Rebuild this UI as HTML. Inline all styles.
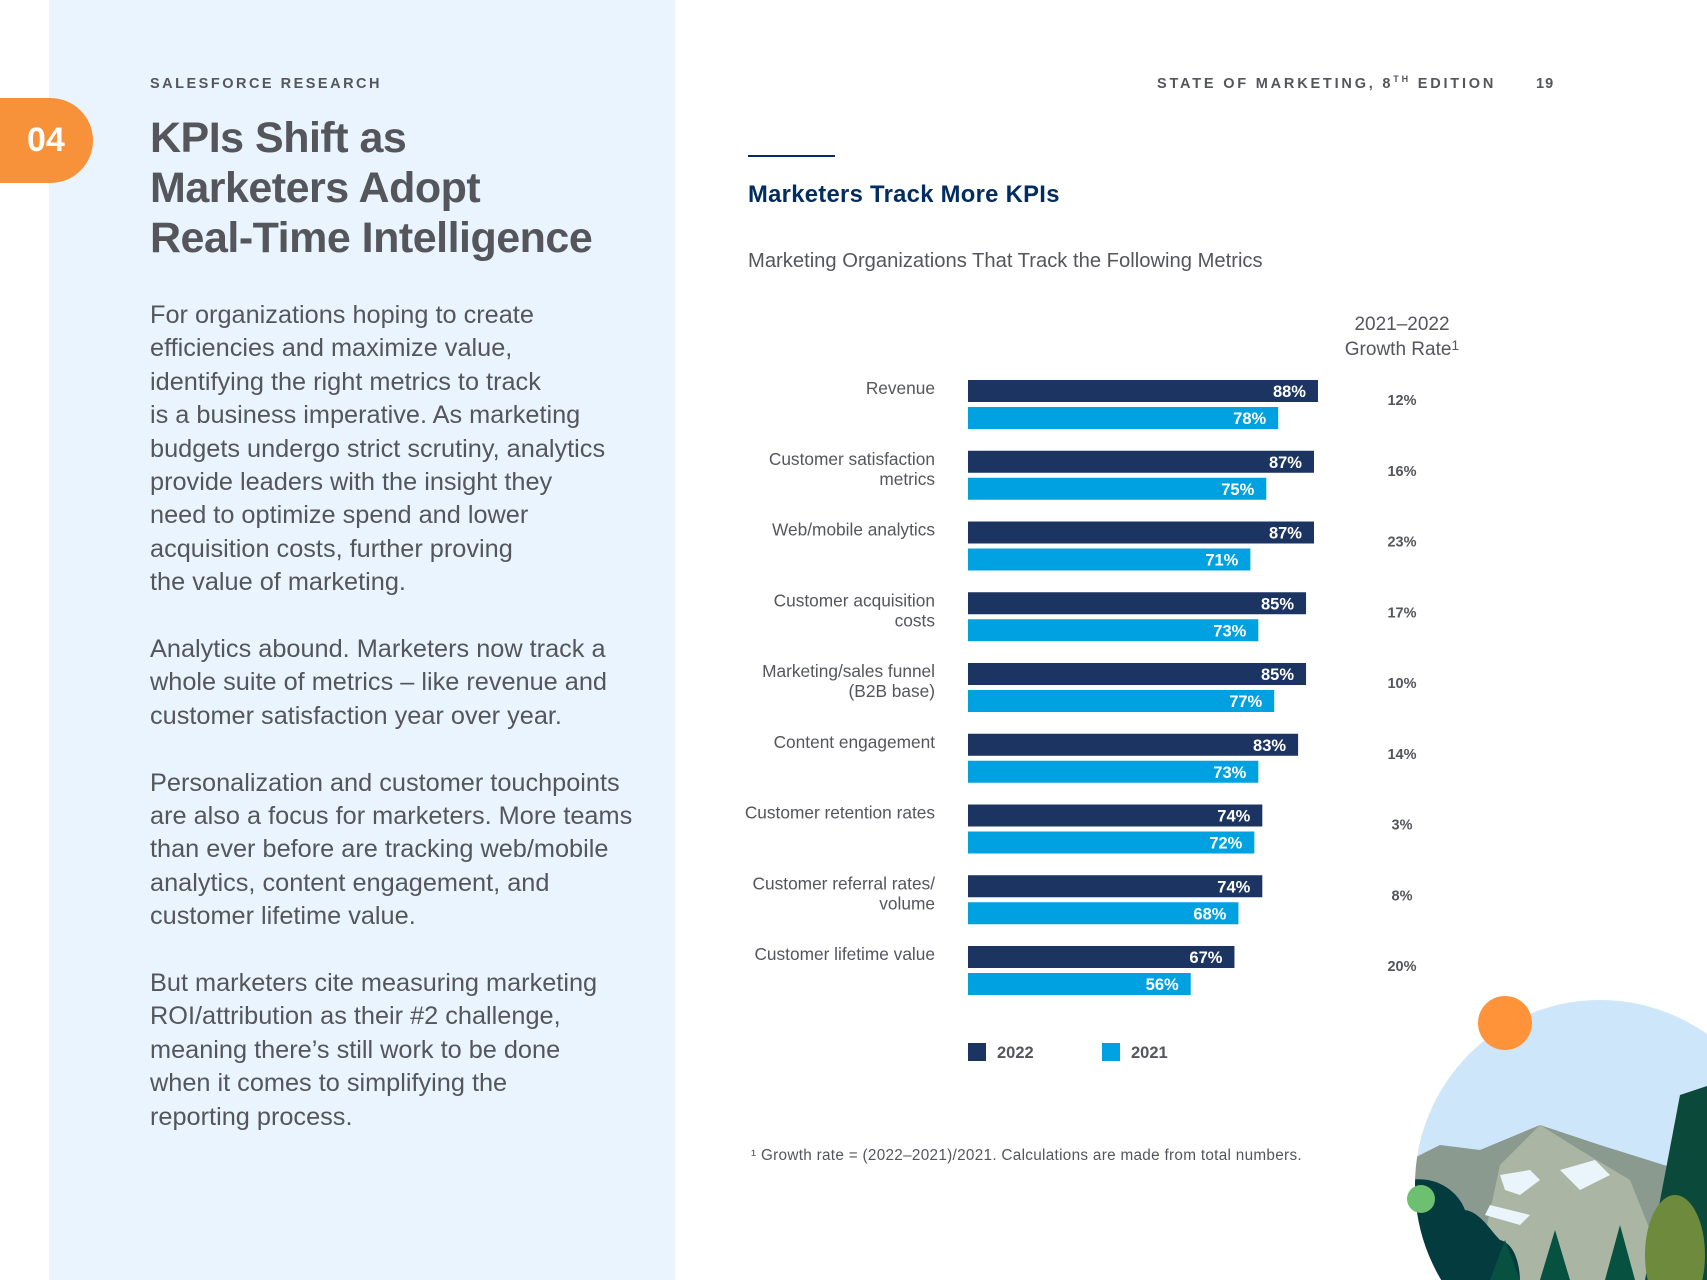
<!DOCTYPE html>
<html><head><meta charset="utf-8">
<style>
html,body{margin:0;padding:0;width:1707px;height:1280px;overflow:hidden;}
body{position:relative;background:#fff;font-family:"Liberation Sans",sans-serif;color:#54565b;}
svg{display:block;}
.abs{position:absolute;}
#panel{left:49px;top:0;width:626px;height:1280px;background:#e9f4fe;}
#tab{left:0;top:98px;width:93px;height:85px;background:#f7923a;border-radius:0 43px 43px 0;color:#fff;font-size:34px;font-weight:bold;line-height:85px;text-indent:27px;}
.kicker{font-size:14.5px;letter-spacing:2.5px;font-weight:bold;color:#54565b;}
#title{left:150px;top:113px;font-size:43px;line-height:50px;font-weight:bold;color:#54565b;letter-spacing:-0.5px;}
#body{left:150px;top:299px;font-size:25.3px;line-height:33.4px;color:#54565b;width:520px;white-space:nowrap;}
#body p{margin:0 0 33.4px 0;}
#rule{left:748px;top:155px;width:87px;height:2px;background:#032d60;}
#ctitle{left:748px;top:181px;font-size:23.8px;font-weight:bold;color:#032d60;letter-spacing:0.3px;}
#csub{left:748px;top:250px;font-size:20.2px;color:#54565b;}
#foot{left:751px;top:1147px;font-size:15.3px;letter-spacing:0.3px;color:#54565b;}
</style></head><body>
<div id="panel" class="abs"></div>
<div id="tab" class="abs">04</div>
<div class="abs kicker" style="left:150px;top:76px;">SALESFORCE RESEARCH</div>
<div class="abs kicker" style="left:1157px;top:76px;letter-spacing:2.8px;">STATE OF MARKETING, 8<sup style="font-size:9px;line-height:0;">TH</sup> EDITION</div>
<div class="abs kicker" style="left:1536px;top:76px;letter-spacing:1px;">19</div>
<div id="title" class="abs">KPIs Shift as<br>Marketers Adopt<br>Real-Time Intelligence</div>
<div id="body" class="abs">
<p>For organizations hoping to create<br>efficiencies and maximize value,<br>identifying the right metrics to track<br>is a business imperative. As marketing<br>budgets undergo strict scrutiny, analytics<br>provide leaders with the insight they<br>need to optimize spend and lower<br>acquisition costs, further proving<br>the value of marketing.</p>
<p>Analytics abound. Marketers now track a<br>whole suite of metrics – like revenue and<br>customer satisfaction year over year.</p>
<p>Personalization and customer touchpoints<br>are also a focus for marketers. More teams<br>than ever before are tracking web/mobile<br>analytics, content engagement, and<br>customer lifetime value.</p>
<p style="margin:0">But marketers cite measuring marketing<br>ROI/attribution as their #2 challenge,<br>meaning there’s still work to be done<br>when it comes to simplifying the<br>reporting process.</p>
</div>
<div id="rule" class="abs"></div>
<div id="ctitle" class="abs">Marketers Track More KPIs</div>
<div id="csub" class="abs">Marketing Organizations That Track the Following Metrics</div>
<div id="foot" class="abs">¹ Growth rate = (2022–2021)/2021. Calculations are made from total numbers.</div>

<svg id="chart" class="abs" style="left:0;top:0;" width="1707" height="1280">
<text x="1402" y="330" text-anchor="middle" font-size="19" fill="#54565b">2021–2022</text>
<text x="1402" y="355" text-anchor="middle" font-size="19" fill="#54565b">Growth Rate<tspan font-size="14" dy="-5">1</tspan></text>
<g id="bars"></g>
</svg>

<svg class="abs" style="left:1380px;top:980px;" width="327" height="300">
<defs><clipPath id="cc"><circle cx="220" cy="205" r="185"/></clipPath></defs>
<g clip-path="url(#cc)">
<rect x="0" y="0" width="400" height="400" fill="#cde6fa"/>
<polygon points="30,180 60,165 100,170 160,145 220,165 300,190 330,200 330,300 30,300" fill="#8a9a8f"/>
<polygon points="95,300 120,185 160,145 200,170 250,200 290,300" fill="#aab5a4"/>
<polygon points="120,195 150,190 160,200 140,215 125,210" fill="#eaf5fb"/>
<polygon points="180,190 215,180 230,195 200,210" fill="#eaf5fb"/>
<polygon points="110,225 150,235 140,245 105,235" fill="#eaf5fb"/>
<path d="M30,200 C60,195 80,215 85,230 C100,232 110,250 120,260 C140,265 140,300 140,300 L30,300Z" fill="#043b3f"/>
<polygon points="300,115 330,105 330,300 265,300" fill="#0b4a3a"/>
<ellipse cx="295" cy="275" rx="30" ry="60" fill="#6d8a3d"/>
<polygon points="225,300 240,245 255,300" fill="#06513f"/>
<polygon points="160,300 175,250 190,300" fill="#06513f"/>
<polygon points="110,300 125,260 140,300" fill="#06513f"/>
</g>
<circle cx="125" cy="43" r="27" fill="#fe9339"/>
<circle cx="41" cy="219" r="14" fill="#6dc070"/>
</svg>

<script>
const categories=["Revenue","Customer satisfaction|metrics","Web/mobile analytics","Customer acquisition|costs","Marketing/sales funnel|(B2B base)","Content engagement","Customer retention rates","Customer referral rates/|volume","Customer lifetime value"];
const values2022=[88,87,87,85,85,83,74,74,67];
const values2021=[78,75,71,73,77,73,72,68,56];
const growth=["12%","16%","23%","17%","10%","14%","3%","8%","20%"];
const seriesNames=["2022","2021"];

const NS="http://www.w3.org/2000/svg";
const g=document.getElementById('bars');
const x0=968, pxPer=3.977, y0=380, step=70.75, bh=22, gap=5;
const xs=v=>v*pxPer;
const ys=i=>y0+i*step;
const colors=["#1c3461","#00a1e0"];
function mk(tag,attrs){const e=document.createElementNS(NS,tag);for(const k in attrs)e.setAttribute(k,attrs[k]);return e;}
categories.forEach((c,i)=>{
  const top=ys(i);
  const lines=c.split('|');
  lines.forEach((ln,j)=>{
    const t=mk('text',{x:935,y:top+14+j*20,'text-anchor':'end','font-size':17.3,fill:'#54565b'});
    
    
    t.textContent=ln;g.appendChild(t);
  });
  [values2022[i],values2021[i]].forEach((v,s)=>{
    const y=top+s*(bh+gap);
    const r=mk('rect',{x:x0,y:y,width:xs(v),height:bh,fill:colors[s]});
    
    
    g.appendChild(r);
    const t=mk('text',{x:x0+xs(v)-12,y:y+17,'text-anchor':'end','font-size':16.5,'font-weight':'bold',fill:'#fff'});
    
    
    t.textContent=v+'%';g.appendChild(t);
  });
  const gt=mk('text',{x:1402,y:top+25,'text-anchor':'middle','font-size':14.5,'font-weight':'bold',fill:'#54565b'});
  
  
  gt.textContent=growth[i];g.appendChild(gt);
});
const legX=[968,1102];
seriesNames.forEach((n,s)=>{
  const r=mk('rect',{x:legX[s],y:1043,width:18,height:18,fill:colors[s]});
  
  
  g.appendChild(r);
  const t=mk('text',{x:legX[s]+29,y:1058,'font-size':16.5,'font-weight':'bold',fill:'#54565b'});
  
  
  t.textContent=n;g.appendChild(t);
});
</script>
</body></html>
